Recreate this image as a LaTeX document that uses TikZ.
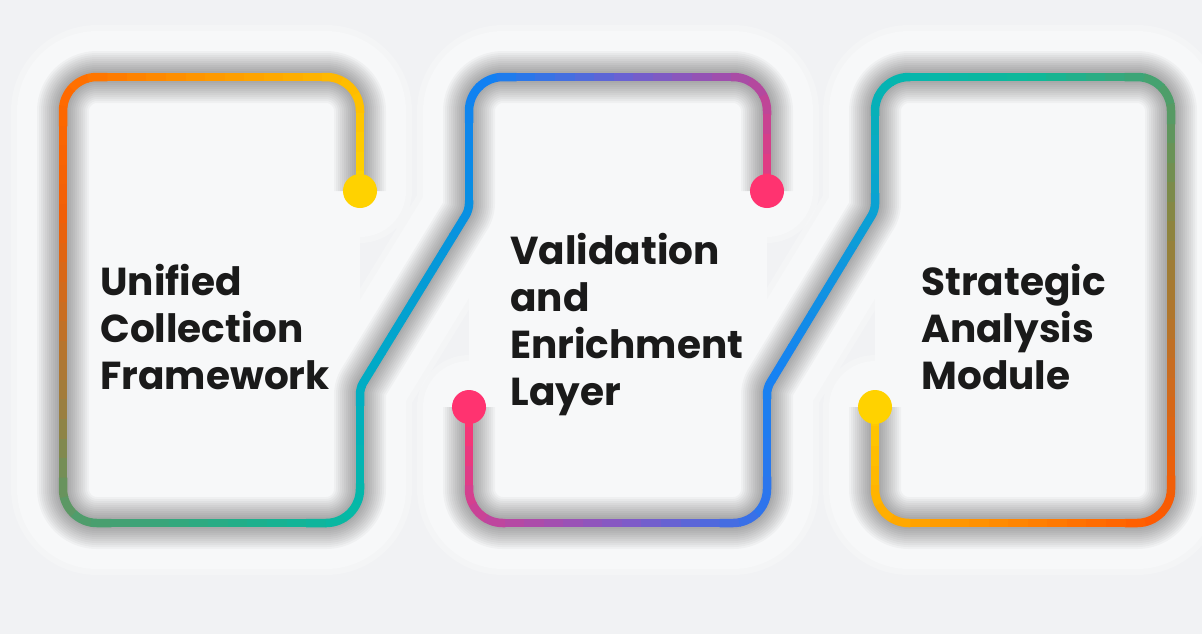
\documentclass[tikz,border=0pt]{standalone}
\usepackage{fontspec}
\setmainfont{Poppins}
\usepackage{tikz}
\usepackage{xcolor}
\definecolor{bggrey}{HTML}{F1F2F4}
\definecolor{glowgrey}{HTML}{F7F8F9}
\definecolor{textblack}{HTML}{1A1A1A}
\definecolor{dotyellow}{HTML}{FFD200}
\definecolor{dotpink}{HTML}{FF3370}
\tikzset{
    flow-glow/.style = {glowgrey, line join=round, line cap=round, rounded corners=17pt, xshift=-7pt, yshift=-7pt},
    flow-shadow/.style = {black, opacity=0.032, line join=round, rounded corners=17pt, xshift=-4pt, yshift=-4.5pt},
    flow-dot/.style = {circle, fill=#1, minimum size=17pt, inner sep=0pt},
    flow-label/.style = {text=textblack, font=\fontsize{19.5}{23.5}\selectfont\bfseries, align=left, inner sep=0pt, anchor=base west},
}
\newcommand\flowA{(dot-a) -- (a-tr) -- (a-tl) -- (a-bl) -- (a-br) [rounded corners=3pt] -- (a-kink) -- (b-kink) [rounded corners=17pt] -- (b-tl) -- (b-tr) -- (dot-b)}
\newcommand\flowB{(dot-c) -- (b-bl) -- (b-br) [rounded corners=3pt] -- (b-knee) -- (c-knee) [rounded corners=17pt] -- (c-tl) -- (c-tr) -- (c-br) -- (c-bl) -- (dot-d)}
\newcommand\gradflow[3]{%
    \pgfmathsetmacro\segl{#2/100}%
    \pgfmathsetmacro\segon{\segl+0.4}%
    \foreach \ka/\kb/\ca/\cb in {#3} {%
        \edef\setgrad{\noexpand\definecolor{gradfrom}{HTML}{\ca}\noexpand\definecolor{gradto}{HTML}{\cb}}\setgrad
        \pgfmathtruncatemacro\kend{\kb-1}%
        \foreach \k in {\ka,...,\kend} {%
            \pgfmathsetmacro\mixpct{(\k-\ka)/(\kb-\ka)*100}%
            \pgfmathsetmacro\dashph{\segon+2000-\k*\segl}%
            \draw[gradto!\mixpct!gradfrom, line width=4.25pt, rounded corners=17pt,
                dash pattern=on \segon pt off 2000pt, dash phase=\dashph pt] #1;
        }%
    }%
}

\begin{document}
\begin{tikzpicture}[x=0.5pt, y=-0.5pt]
\useasboundingbox (0,0) rectangle (1202,634);
\fill[bggrey] (0,0) rectangle (1202,634);

\coordinate (dot-a) at (360,191);
\coordinate (a-tr) at (360,77);
\coordinate (a-tl) at (63,77);
\coordinate (a-bl) at (63,523);
\coordinate (a-br) at (360,523);
\coordinate (a-kink) at (360,388);
\coordinate (b-kink) at (469,210);
\coordinate (b-tl) at (469,77);
\coordinate (b-tr) at (767,77);
\coordinate (dot-b) at (767,191);
\coordinate (dot-c) at (469,407);
\coordinate (b-bl) at (469,523);
\coordinate (b-br) at (767,523);
\coordinate (b-knee) at (767,388);
\coordinate (c-knee) at (875,210);
\coordinate (c-tl) at (875,77);
\coordinate (c-tr) at (1171,77);
\coordinate (c-br) at (1171,523);
\coordinate (c-bl) at (875,523);
\coordinate (dot-d) at (875,407);

\foreach \flow in {\flowA,\flowB} {
    \draw[flow-glow, line width=52pt, opacity=0.5] \flow;
    \draw[flow-glow, line width=46pt] \flow;
}
\fill[glowgrey, rounded corners=17pt] (a-tl) rectangle (a-br);
\fill[glowgrey, rounded corners=17pt] (b-tl) rectangle (b-br);
\fill[glowgrey, rounded corners=17pt] (c-tl) rectangle (c-br);

\foreach \w in {4,6,...,26} {
    \draw[flow-shadow, line width=\w pt] \flowA;
    \draw[flow-shadow, line width=\w pt] \flowB;
}

\gradflow{\flowA}{978}{0/6/FFD400/FFB800, 6/13/FFB800/FF9500, 13/20/FF9500/FF6A00,%
    20/26/FF6A00/F05F08, 26/31/F05F08/C96E22, 31/36/C96E22/9A7F40, 36/42/9A7F40/4F9D6C,%
    42/50/4F9D6C/22AE88, 50/56/22AE88/05B9A6, 56/63/05B9A6/00ACC4, 63/73/00ACC4/0890E2,%
    73/80/0890E2/1280F2, 80/87/1280F2/6A62D2, 87/94/6A62D2/B4489E, 94/101/B4489E/FF3370}
\gradflow{\flowB}{978}{0/6/FF3370/BE469E, 6/13/BE469E/7E5BC8, 13/20/7E5BC8/2E74EC,%
    20/27/2E74EC/1682F2, 27/37/1682F2/0AA2D2, 37/44/0AA2D2/05B6AE, 44/51/05B6AE/10B898,%
    51/58/10B898/4E9E6A, 58/65/4E9E6A/8E843F, 65/72/8E843F/C86D22, 72/80/C86D22/FF5A00,%
    80/87/FF5A00/FF8500, 87/94/FF8500/FFAE00, 94/101/FFAE00/FFD400}

\node[flow-dot=dotyellow] (dot-first) at (dot-a) {};
\node[flow-dot=dotpink] (dot-second) at (dot-b) {};
\node[flow-dot=dotpink] (dot-third) at (dot-c) {};
\node[flow-dot=dotyellow] (dot-fourth) at (dot-d) {};

\node[flow-label] (unified) at (100,389) {Unified\\Collection\\Framework};
\node[flow-label] (validation) at (510,405) {Validation\\and\\Enrichment\\Layer};
\node[flow-label] (strategic) at (921,389) {Strategic\\Analysis\\Module};
\end{tikzpicture}
\end{document}
